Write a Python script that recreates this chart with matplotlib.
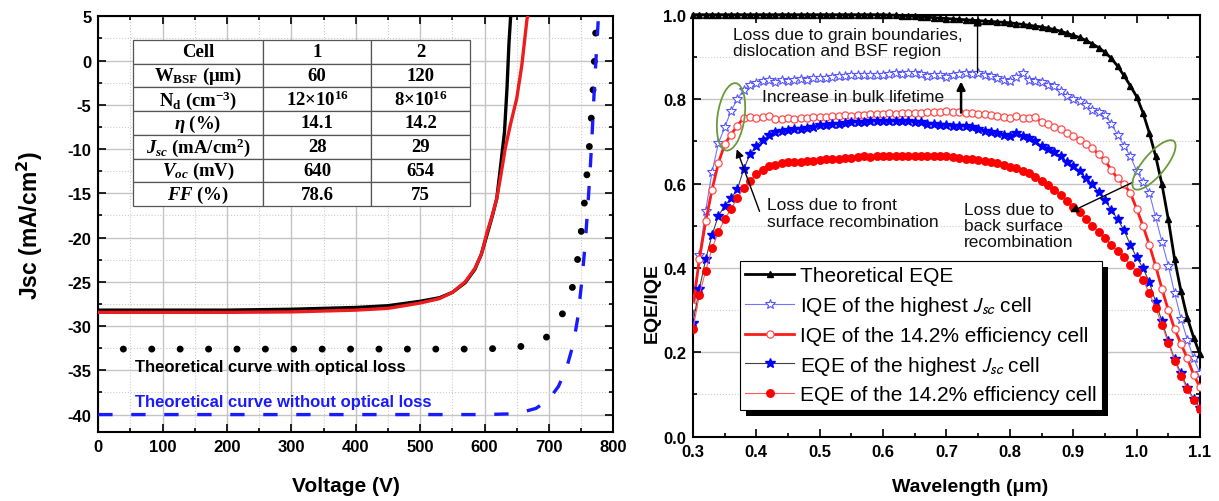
import numpy as np
import matplotlib
matplotlib.use('Agg')
import matplotlib.pyplot as plt
from matplotlib.patches import Ellipse, Rectangle
from matplotlib import transforms
from matplotlib.ticker import MultipleLocator, FormatStrFormatter

plt.rcParams['font.family'] = ['Liberation Sans', 'DejaVu Sans']
plt.rcParams['axes.unicode_minus'] = False
plt.rcParams['mathtext.fontset'] = 'custom'
plt.rcParams['mathtext.rm'] = 'Liberation Serif:bold'
plt.rcParams['mathtext.it'] = 'Liberation Serif:bold:italic'
plt.rcParams['mathtext.bf'] = 'Liberation Serif:bold'

# ---------------- Left panel data (J-V) ----------------
V_CELL1 = [0, 100, 200, 300, 400, 450, 500, 530, 550, 570, 585, 595, 605, 612, 619, 625, 631, 635, 638, 641]
J_CELL1 = [-28.2, -28.2, -28.2, -28.1, -27.9, -27.7, -27.2, -26.8, -26.2, -25.1, -23.6, -21.9, -19.4, -17.6,
           -15.6, -11.9, -8.1, -3.0, 2.0, 5.5]
V_CELL2 = [0, 100, 200, 300, 400, 450, 500, 530, 550, 570, 585, 595, 604, 612, 619, 626, 632, 640, 650, 658, 666, 669]
J_CELL2 = [-28.45, -28.45, -28.45, -28.4, -28.2, -28.0, -27.4, -26.9, -26.2, -25.0, -23.5, -21.9, -19.4, -17.5,
           -15.6, -12.7, -10.0, -7.3, -4.3, -0.5, 4.7, 5.5]
V_OPT = [0, 600, 650, 690, 715, 734, 743, 749, 754, 758, 762, 765, 768, 770, 772, 774]
J_OPT = [-32.6, -32.6, -32.4, -31.8, -29.6, -26.5, -23.3, -20.1, -17.0, -13.7, -10.6, -7.4, -4.1, -1.0, 2.2, 5.0]
V_NOOPT = [0, 600, 650, 680, 700, 715, 728, 738, 745, 751, 756, 760, 764, 767, 770, 773, 777]
J_NOOPT = [-40, -40, -39.9, -39.3, -38.3, -36.8, -34.6, -32.0, -29.0, -25.0, -21.0, -17.0, -12.5, -8.5, -4.0, 0.0, 5.0]

TABLE_ROWS = [
    ['Cell', '1', '2'],
    ['W$_{\\mathrm{BSF}}$ (\u03bcm)', '60', '120'],
    ['N$_{\\mathrm{d}}$ (cm$^{\\mathrm{-3}}$)', '12\u00d710$^{\\mathrm{16}}$', '8\u00d710$^{\\mathrm{16}}$'],
    ['$\\eta$ (%)', '14.1', '14.2'],
    ['$J_{sc}$ (mA/cm$^{\\mathrm{2}}$)', '28', '29'],
    ['$V_{oc}$ (mV)', '640', '654'],
    ['$FF$ (%)', '78.6', '75'],
]

# ---------------- Right panel data (EQE / IQE) ----------------
WL = [0.30, 0.31, 0.32, 0.33, 0.34, 0.35, 0.36, 0.37, 0.38, 0.39,
      0.40, 0.41, 0.42, 0.43, 0.44, 0.45, 0.46, 0.47, 0.48, 0.49,
      0.50, 0.51, 0.52, 0.53, 0.54, 0.55, 0.56, 0.57, 0.58, 0.59,
      0.60, 0.61, 0.62, 0.63, 0.64, 0.65, 0.66, 0.67, 0.68, 0.69,
      0.70, 0.71, 0.72, 0.73, 0.74, 0.75, 0.76, 0.77, 0.78, 0.79,
      0.80, 0.81, 0.82, 0.83, 0.84, 0.85, 0.86, 0.87, 0.88, 0.89,
      0.90, 0.91, 0.92, 0.93, 0.94, 0.95, 0.96, 0.97, 0.98, 0.99,
      1.00, 1.01, 1.02, 1.03, 1.04, 1.05, 1.06, 1.07, 1.08, 1.09, 1.10]
THEORY_EQE = [1.000, 1.000, 1.000, 1.000, 1.000, 1.000, 1.000, 1.000, 1.000, 1.000,
              1.000, 1.000, 1.000, 1.000, 1.000, 1.000, 1.000, 1.000, 1.000, 1.000,
              1.000, 1.000, 1.000, 1.000, 1.000, 1.000, 1.000, 1.000, 1.000, 1.000,
              1.000, 0.999, 0.999, 0.998, 0.997, 0.996, 0.995, 0.994, 0.993, 0.992,
              0.991, 0.990, 0.989, 0.988, 0.987, 0.986, 0.985, 0.984, 0.983, 0.982,
              0.981, 0.979, 0.977, 0.975, 0.973, 0.971, 0.968, 0.965, 0.961, 0.956,
              0.951, 0.946, 0.939, 0.931, 0.922, 0.911, 0.897, 0.878, 0.856, 0.832,
              0.806, 0.768, 0.720, 0.665, 0.598, 0.515, 0.420, 0.345, 0.282, 0.235, 0.195]
IQE_HIGH = [0.270, 0.430, 0.535, 0.627, 0.695, 0.733, 0.772, 0.800, 0.822, 0.834,
            0.838, 0.842, 0.845, 0.841, 0.846, 0.844, 0.846, 0.848, 0.846, 0.850,
            0.851, 0.849, 0.853, 0.854, 0.855, 0.856, 0.857, 0.857, 0.856, 0.858,
            0.858, 0.859, 0.861, 0.860, 0.862, 0.861, 0.860, 0.855, 0.858, 0.856,
            0.852, 0.858, 0.860, 0.862, 0.859, 0.862, 0.856, 0.855, 0.850, 0.846,
            0.842, 0.852, 0.862, 0.845, 0.843, 0.840, 0.834, 0.830, 0.820, 0.808,
            0.800, 0.795, 0.785, 0.775, 0.770, 0.762, 0.742, 0.715, 0.690, 0.665,
            0.630, 0.603, 0.578, 0.520, 0.462, 0.405, 0.340, 0.280, 0.230, 0.186, 0.150]
IQE_142 = [0.310, 0.420, 0.510, 0.585, 0.648, 0.693, 0.716, 0.737, 0.756, 0.757,
           0.756, 0.757, 0.760, 0.754, 0.752, 0.755, 0.754, 0.755, 0.756, 0.758,
           0.758, 0.757, 0.760, 0.760, 0.762, 0.761, 0.763, 0.762, 0.764, 0.765,
           0.764, 0.766, 0.765, 0.766, 0.768, 0.767, 0.768, 0.769, 0.770, 0.770,
           0.771, 0.770, 0.769, 0.767, 0.766, 0.764, 0.764, 0.762, 0.760, 0.757,
           0.756, 0.760, 0.756, 0.755, 0.757, 0.745, 0.740, 0.735, 0.728, 0.720,
           0.713, 0.703, 0.693, 0.684, 0.669, 0.655, 0.632, 0.612, 0.598, 0.578,
           0.540, 0.500, 0.455, 0.405, 0.350, 0.300, 0.255, 0.220, 0.186, 0.147, 0.117]
EQE_HIGH = [0.270, 0.350, 0.420, 0.478, 0.523, 0.547, 0.565, 0.586, 0.634, 0.669,
            0.690, 0.704, 0.714, 0.721, 0.724, 0.726, 0.729, 0.730, 0.732, 0.735,
            0.738, 0.739, 0.741, 0.742, 0.743, 0.745, 0.746, 0.746, 0.747, 0.748,
            0.748, 0.748, 0.749, 0.748, 0.747, 0.746, 0.746, 0.742, 0.740, 0.739,
            0.738, 0.737, 0.737, 0.736, 0.735, 0.729, 0.725, 0.722, 0.720, 0.715,
            0.712, 0.720, 0.713, 0.708, 0.700, 0.690, 0.682, 0.674, 0.664, 0.652,
            0.642, 0.630, 0.612, 0.598, 0.580, 0.560, 0.538, 0.515, 0.490, 0.455,
            0.425, 0.400, 0.366, 0.320, 0.273, 0.227, 0.183, 0.151, 0.116, 0.090, 0.068]
EQE_142 = [0.255, 0.336, 0.393, 0.446, 0.485, 0.515, 0.540, 0.565, 0.590, 0.607,
           0.622, 0.632, 0.641, 0.645, 0.648, 0.650, 0.651, 0.652, 0.653, 0.654,
           0.655, 0.657, 0.658, 0.659, 0.660, 0.661, 0.662, 0.664, 0.663, 0.665,
           0.666, 0.665, 0.666, 0.665, 0.666, 0.665, 0.666, 0.666, 0.665, 0.665,
           0.664, 0.662, 0.660, 0.659, 0.657, 0.655, 0.653, 0.650, 0.648, 0.644,
           0.640, 0.636, 0.630, 0.624, 0.615, 0.607, 0.597, 0.585, 0.572, 0.558,
           0.545, 0.532, 0.516, 0.500, 0.486, 0.470, 0.455, 0.440, 0.425, 0.408,
           0.390, 0.372, 0.340, 0.305, 0.265, 0.222, 0.180, 0.145, 0.112, 0.088, 0.066]

LEGEND_LABELS = ['Theoretical EQE',
                 'IQE of the highest $J_{sc}$ cell',
                 'IQE of the 14.2% efficiency cell',
                 'EQE of the highest $J_{sc}$ cell',
                 'EQE of the 14.2% efficiency cell']

fig = plt.figure(figsize=(12.19, 5.02), dpi=100)
axL = fig.add_axes([0.0806, 0.1369, 0.4225, 0.8287])
axR = fig.add_axes([0.5685, 0.1281, 0.4159, 0.8406])


def style_axes(ax):
    for s in ax.spines.values():
        s.set_linewidth(1.5)
        s.set_color('black')
    ax.tick_params(which='both', direction='in', top=True, right=True, width=1.2, colors='black')
    ax.tick_params(which='major', length=6, labelsize=12, pad=5)
    ax.tick_params(which='minor', length=3)
    for lab in ax.get_xticklabels() + ax.get_yticklabels():
        lab.set_fontweight('bold')


# ---------------- Left panel ----------------
axL.set_xlim(0, 800)
axL.set_ylim(-42, 5)
axL.xaxis.set_major_locator(MultipleLocator(100))
axL.xaxis.set_minor_locator(MultipleLocator(50))
axL.yaxis.set_major_locator(MultipleLocator(5))
axL.yaxis.set_minor_locator(MultipleLocator(2.5))
axL.set_axisbelow(True)
axL.grid(which='major', color='#c4c4c4', lw=1.0)
axL.grid(which='minor', color='#cccccc', lw=0.8, ls=':')
style_axes(axL)

axL.plot(V_CELL1, J_CELL1, color='black', lw=2.4, zorder=3)
axL.plot(V_CELL2, J_CELL2, color='#ee1c1c', lw=2.4, zorder=3)
axL.plot(V_OPT, J_OPT, color='black', lw=5.0, ls=(0.48, (0.01, 4.08)),
         dash_capstyle='round', zorder=3)
axL.plot(V_NOOPT, J_NOOPT, color='#1a1aff', lw=2.4, ls=(0, (4.3, 5.6)), zorder=3)

axL.text(57, -34.6, 'Theoretical curve with optical loss', fontsize=12,
         fontweight='bold', va='center', ha='left', color='black', zorder=4)
axL.text(57, -38.5, 'Theoretical curve without optical loss', fontsize=12,
         fontweight='bold', va='center', ha='left', color='#1a1aff', zorder=4)

tbl = axL.table(cellText=TABLE_ROWS, cellLoc='center',
                bbox=[0.068, 0.544, 0.654, 0.399], colWidths=[0.252, 0.210, 0.192])
tbl.auto_set_font_size(False)
for (r, c), cell in tbl.get_celld().items():
    cell.set_edgecolor('#555555')
    cell.set_linewidth(0.9)
    cell.set_facecolor('white')
    t = cell.get_text()
    t.set_fontfamily('Liberation Serif')
    t.set_fontweight('bold')
    t.set_fontsize(13.5)
tbl.set_zorder(6)

axL.set_xlabel('Voltage (V)', fontsize=15, fontweight='bold')
ylab = axL.set_ylabel('Jsc (mA/cm$^\\mathbf{2}$)', fontsize=16.5, fontweight='bold')
ylab.set_math_fontfamily('dejavusans')
axL.xaxis.label.set_va('center')
axL.yaxis.label.set_va('center')
axL.xaxis.set_label_coords(0.48, -0.129)
axL.yaxis.set_label_coords(-0.132, 0.5)

# ---------------- Right panel ----------------
axR.set_xlim(0.3, 1.1)
axR.set_ylim(0, 1.0)
axR.xaxis.set_major_locator(MultipleLocator(0.1))
axR.xaxis.set_minor_locator(MultipleLocator(0.05))
axR.yaxis.set_major_locator(MultipleLocator(0.2))
axR.yaxis.set_minor_locator(MultipleLocator(0.1))
axR.xaxis.set_major_formatter(FormatStrFormatter('%.1f'))
axR.yaxis.set_major_formatter(FormatStrFormatter('%.1f'))
axR.set_axisbelow(True)
axR.yaxis.grid(True, which='major', color='#c4c4c4', lw=1.0)
axR.yaxis.grid(True, which='minor', color='#cccccc', lw=0.8, ls=':')
style_axes(axR)

axR.plot(WL, THEORY_EQE, color='black', lw=2.0, marker='^', ms=5, mfc='black', mec='black',
         clip_on=False, zorder=4, label=LEGEND_LABELS[0])
axR.plot(WL, IQE_HIGH, color='#7373ff', lw=0.8, marker='*', ms=7.5, mfc='white', mec='#5555ff',
         mew=0.8, zorder=3, label=LEGEND_LABELS[1])
axR.plot(WL, IQE_142, color='#ff1a1a', lw=2.0, marker='o', ms=5.2, mfc='white', mec='#ff4d4d',
         mew=0.9, zorder=3, label=LEGEND_LABELS[2])
axR.plot(WL, EQE_HIGH, color='#404040', lw=0.8, marker='*', ms=7, mfc='#0000ff', mec='#0000ff',
         zorder=3, label=LEGEND_LABELS[3])
axR.plot(WL, EQE_142, color='#ff5a5a', lw=0.8, marker='o', ms=5.4, mfc='#ff0000', mec='#ff0000',
         zorder=3, label=LEGEND_LABELS[4])

leg = axR.legend(loc='upper left', bbox_to_anchor=(0.0927, 0.416), borderaxespad=0,
                 fontsize=15.0, frameon=True, fancybox=False, edgecolor='black', framealpha=1,
                 handlelength=2.35, labelspacing=0.42, borderpad=0.25, handletextpad=0.3)
leg.get_frame().set_linewidth(0.8)
leg.set_zorder(8)
for t in leg.get_texts():
    t.set_math_fontfamily('stixsans')

txt_kw = dict(fontsize=12.5, color='#111111', ha='left', va='center', linespacing=1.1, zorder=7)
axR.text(0.3625, 0.934, 'Loss due to grain boundaries,\ndislocation and BSF region', **txt_kw)
axR.text(0.409, 0.807, 'Increase in bulk lifetime', **txt_kw)
axR.text(0.417, 0.530, 'Loss due to front\nsurface recombination', **txt_kw)
axR.text(0.728, 0.501, 'Loss due to\nback surface\nrecombination', **txt_kw)


def arrow(ax, tail, tip, lw=1.0, ms=12):
    ax.annotate('', xy=tip, xytext=tail,
                arrowprops=dict(arrowstyle='-|>', color='black', lw=lw, mutation_scale=ms,
                                shrinkA=0, shrinkB=0), zorder=7)


arrow(axR, (0.749, 0.862), (0.749, 0.993))
arrow(axR, (0.723, 0.768), (0.723, 0.842), lw=1.8)
arrow(axR, (0.405, 0.534), (0.369, 0.681))
arrow(axR, (0.994, 0.603), (0.895, 0.532))


def ring(ax, x, y, w, h, ang):
    tr = transforms.ScaledTranslation(x, y, ax.transData)
    e = Ellipse((0, 0), w, h, angle=ang, transform=tr, fill=False, edgecolor='#6a9a3a',
                lw=1.3, zorder=7, clip_on=False)
    ax.add_patch(e)


ring(axR, 0.360, 0.758, 68, 27, 82)
ring(axR, 1.0274, 0.644, 62, 22, 50)

axR.set_xlabel('Wavelength (\u03bcm)', fontsize=14, fontweight='bold')
axR.set_ylabel('EQE/IQE', fontsize=14, fontweight='bold')
axR.xaxis.label.set_va('center')
axR.yaxis.label.set_va('center')
axR.xaxis.set_label_coords(0.546, -0.117)
axR.yaxis.set_label_coords(-0.081, 0.32)

# legend shadow (opaque black block offset down-right)
fig.canvas.draw()
bb = leg.get_window_extent().transformed(axR.transAxes.inverted())
axw = axR.get_window_extent()
dx = 6.0 / axw.width
dy = 6.0 / axw.height
shadow = Rectangle((bb.x0 + dx, bb.y0 - dy), bb.width, bb.height, transform=axR.transAxes,
                   facecolor='black', edgecolor='none', zorder=7.9, clip_on=False)
axR.add_patch(shadow)

fig.savefig('out.png', dpi=100)
